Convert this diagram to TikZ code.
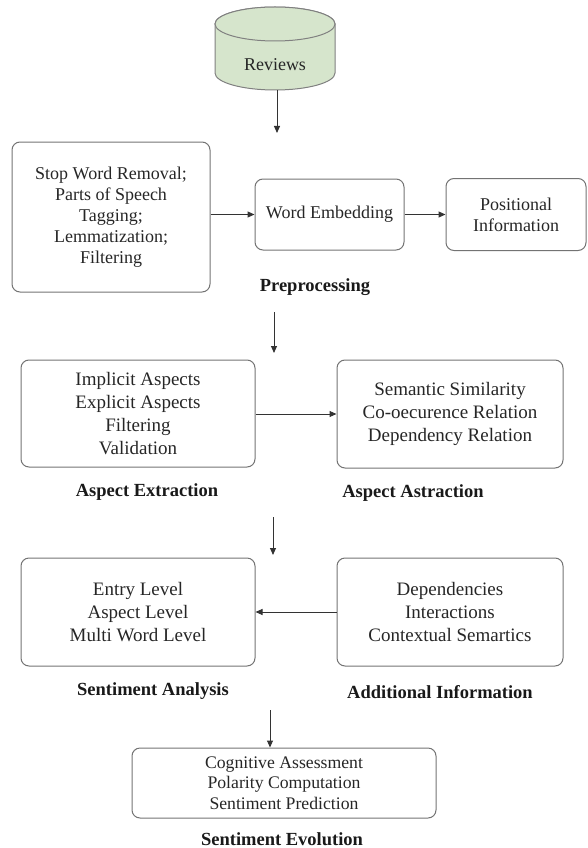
\documentclass[tikz,border=0pt]{standalone}
\usepackage{fontspec}
\setmainfont{Liberation Serif}
\usetikzlibrary{arrows.meta}
\definecolor{dbgreen}{RGB}{214,229,204}

\begin{document}
\begin{tikzpicture}[x=1pt, y=-1pt, auto]
        % Define block styles
        \tikzstyle{stage} = [rectangle, draw=black!55, line width=1pt, rounded corners=8pt, align=center, text=black!85, inner sep=0pt, font=\fontsize{19}{23}\selectfont]
        \tikzstyle{caption} = [text=black!90, font=\bfseries\fontsize{18.5}{22}\selectfont]
        \tikzstyle{database} = [draw=black!50, line width=1pt, fill=dbgreen]
        \tikzstyle{arrow} = [-{Triangle[length=7pt,width=6pt]}, line width=1pt, draw=black!80]

        \useasboundingbox (0,0) rectangle (587,848);

        % Reviews cylinder
        \filldraw[database] (215,24) -- (215,73) arc[start angle=180, end angle=360, x radius=60pt, y radius=17pt] -- (335,24) arc[start angle=0, end angle=180, x radius=60pt, y radius=17pt] -- cycle;
        \draw[database] (275,24) ellipse [x radius=60pt, y radius=17pt];
        \node[minimum width=120pt, minimum height=50pt, inner sep=0pt, text=black!85, font=\fontsize{18}{21}\selectfont] (reviews) at (275,65) {Reviews};

        % Nodes
        \node[stage, minimum width=198pt, minimum height=150pt, font=\fontsize{18}{21}\selectfont] (stopword) at (111,217) {Stop Word Removal;\\ Parts of Speech\\ Tagging;\\ Lemmatization;\\ Filtering};
        \node[stage, minimum width=149pt, minimum height=71pt, font=\fontsize{18}{21}\selectfont] (embedding) at (329.5,214.5) {Word Embedding};
        \node[stage, minimum width=140pt, minimum height=72pt, font=\fontsize{18}{21}\selectfont] (positional) at (516,214.5) {Positional\\ Information};
        \node[caption] (prep) at (315,287) {Preprocessing};

        \node[stage, minimum width=234pt, minimum height=107pt] (aspects) at (138,413.5) {Implicit Aspects\\ Explicit Aspects\\ Filtering\\ Validation};
        \node[stage, minimum width=226pt, minimum height=108pt] (relations) at (450,414) {Semantic Similarity\\ Co-oecurence Relation\\ Dependency Relation};
        \node[caption] (aspextr) at (147,492) {Aspect Extraction};
        \node[caption] (aspastr) at (413,493) {Aspect Astraction};

        \node[stage, minimum width=234pt, minimum height=108pt] (levels) at (138,612) {Entry Level\\ Aspect Level\\ Multi Word Level};
        \node[stage, minimum width=226pt, minimum height=108pt] (additional) at (450,612) {Dependencies\\ Interactions\\ Contextual Semartics};
        \node[caption] (sentana) at (153,691) {Sentiment Analysis};
        \node[caption] (addinfo) at (440,692) {Additional Information};

        \node[stage, minimum width=304pt, minimum height=70pt, font=\fontsize{17.7}{20.5}\selectfont] (evolution) at (284,783) {Cognitive Assessment\\ Polarity Computation\\ Sentiment Prediction};
        \node[caption] (sentevo) at (282,839) {Sentiment Evolution};

        % Free arrow ends
        \coordinate (revtip) at (277,133);
        \coordinate (prepout) at (274,312);
        \coordinate (preptip) at (274,353);
        \coordinate (aspout) at (273,517);
        \coordinate (asptip) at (273,555);
        \coordinate (sentout) at (270,710);

        % Arrows
        \draw[arrow] (reviews.south -| revtip) -- (revtip);
        \draw[arrow] (stopword.east |- embedding) -- (embedding.west);
        \draw[arrow] (embedding) -- (positional);
        \draw[arrow] (prepout) -- (preptip);
        \draw[arrow] (aspects.east |- relations) -- (relations.west);
        \draw[arrow] (aspout) -- (asptip);
        \draw[arrow] (additional) -- (levels);
        \draw[arrow] (sentout) -- (sentout |- evolution.north);

    \end{tikzpicture}
\end{document}
